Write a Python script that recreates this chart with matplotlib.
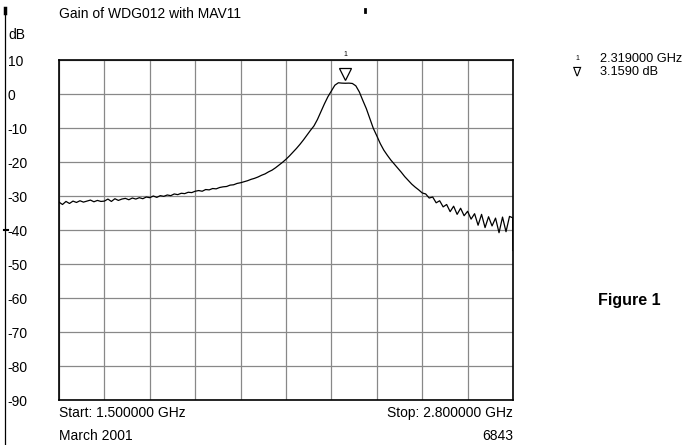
import numpy as np
import matplotlib
matplotlib.use('Agg')
import matplotlib.pyplot as plt
from matplotlib.lines import Line2D

plt.rcParams['font.family'] = ['Liberation Sans', 'DejaVu Sans']

# trace (GHz, dB)
freq = [1.50, 1.51, 1.52, 1.53, 1.54, 1.55, 1.56, 1.57, 1.58, 1.59,
        1.60, 1.61, 1.62, 1.63, 1.64, 1.65, 1.66, 1.67, 1.68, 1.69,
        1.70, 1.71, 1.72, 1.73, 1.74, 1.75, 1.76, 1.77, 1.78, 1.79,
        1.80, 1.81, 1.82, 1.83, 1.84, 1.85, 1.86, 1.87, 1.88, 1.89,
        1.90, 1.91, 1.92, 1.93, 1.94, 1.95, 1.96, 1.97, 1.98, 1.99,
        2.00, 2.01, 2.02, 2.03, 2.04, 2.05, 2.06, 2.07, 2.08, 2.09,
        2.10, 2.11, 2.12, 2.13, 2.14, 2.15, 2.16, 2.17, 2.18, 2.19,
        2.20, 2.21, 2.22, 2.23, 2.24, 2.25, 2.26, 2.27, 2.28, 2.29,
        2.30, 2.31, 2.32, 2.33, 2.34, 2.35, 2.36, 2.37, 2.38, 2.39,
        2.40, 2.41, 2.42, 2.43, 2.44, 2.45, 2.46, 2.47, 2.48, 2.49,
        2.50, 2.51, 2.52, 2.53, 2.54, 2.55, 2.56, 2.57, 2.58, 2.59,
        2.60, 2.61, 2.62, 2.63, 2.64, 2.65, 2.66, 2.67, 2.68, 2.69,
        2.70, 2.71, 2.72, 2.73, 2.74, 2.75, 2.76, 2.77, 2.78, 2.79,
        2.799, 2.80]
gain = [-31.8, -32.5, -31.6, -32.2, -31.5, -31.9, -31.4, -31.8, -31.5, -31.2,
        -31.7, -31.3, -31.6, -31.5, -30.9, -31.6, -30.8, -31.3, -30.9, -30.7,
        -31.1, -30.6, -30.9, -30.5, -30.8, -30.3, -30.5, -30.0, -30.4, -29.9,
        -30.1, -29.7, -29.9, -29.4, -29.6, -29.2, -29.3, -28.9, -29.0, -28.6,
        -28.4, -28.6, -28.1, -28.2, -27.8, -27.9, -27.5, -27.3, -27.2, -26.8,
        -26.7, -26.3, -26.1, -25.8, -25.5, -25.1, -24.8, -24.4, -23.9, -23.5,
        -22.9, -22.4, -21.7, -20.9, -20.1, -19.2, -18.2, -17.1, -16.0, -14.8,
        -13.5, -12.1, -10.7, -9.4, -7.5, -5.2, -2.9, -0.8, 0.9, 2.6,
        3.3, 3.2, 3.16, 3.2, 3.1, 2.4, 0.6, -1.9, -4.3, -7.2,
        -10.1, -12.3, -14.6, -16.5, -18.0, -19.4, -20.6, -21.8, -23.0, -24.3,
        -25.4, -26.5, -27.4, -28.2, -29.1, -29.4, -30.6, -30.3, -32.0, -31.4,
        -33.2, -32.5, -34.6, -33.0, -35.4, -33.6, -35.8, -34.5, -36.8, -35.2,
        -38.6, -35.4, -39.3, -36.1, -38.8, -36.5, -40.8, -36.2, -40.5, -36.0,
        -36.4, -46.0]

marker_f = 2.319
marker_db = 3.159
yticks = [10, 0, -10, -20, -30, -40, -50, -60, -70, -80, -90]

fig = plt.figure(figsize=(6.95, 4.45), dpi=100)
ax = fig.add_axes([59/695, 1 - 400/445, 454/695, 340/445])

ax.plot(freq, gain, color='black', lw=0.9)
ax.plot([marker_f], [6.0], marker='v', ms=8, mfc='white', mec='black', mew=0.9,
        clip_on=False)
ax.text(marker_f, 10.6, '1', fontsize=5, ha='center', va='bottom')

ax.set_xlim(1.5, 2.8)
ax.set_ylim(-90, 10)
ax.set_xticks(np.linspace(1.5, 2.8, 11))
ax.set_xticklabels([])
ax.set_yticks(yticks)
ax.set_yticklabels([str(v) for v in yticks], fontsize=10, ha='left')
ax.tick_params(axis='x', length=0)
ax.tick_params(axis='y', length=0, pad=37)
ax.grid(True, color='#888888', lw=0.9)
for s in ax.spines.values():
    s.set_linewidth(1.2)

fig.text(8/695, 1 - 35/445, 'dB', fontsize=10, va='center')
fig.text(59/695, 1 - 14/445, 'Gain of WDG012 with MAV11', fontsize=10, va='center')
fig.text(59/695, 1 - 413/445, 'Start: 1.500000 GHz', fontsize=10, va='center')
fig.text(513/695, 1 - 413/445, 'Stop: 2.800000 GHz', fontsize=10, va='center', ha='right')
fig.text(59/695, 1 - 436/445, 'March 2001', fontsize=10, va='center')
fig.text(513/695, 1 - 436/445, '6843', fontsize=10, va='center', ha='right')

fig.text(577/695, 1 - 58/445, '1', fontsize=5, va='center', ha='center')
fig.text(577/695, 1 - 72/445, r'$\nabla$', fontsize=9, va='center', ha='center')
fig.text(600/695, 1 - 59/445, '2.319000 GHz', fontsize=9.2, va='center')
fig.text(600/695, 1 - 72/445, '3.1590 dB', fontsize=9.2, va='center')

fig.text(598/695, 1 - 300/445, 'Figure 1', fontsize=11.5, fontweight='bold',
         va='center')

# frame line on the left edge and stray marks
fig.add_artist(Line2D([5/695, 5/695], [0, 1 - 8/445], color='black', lw=0.9))
fig.add_artist(Line2D([5/695, 5/695], [1 - 8/445, 1 - 13/445], color='black', lw=2.5))
fig.add_artist(Line2D([4/695, 8/695], [1 - 230/445, 1 - 230/445], color='black', lw=1.5))
fig.add_artist(Line2D([365/695, 365/695], [1 - 9/445, 1 - 12/445], color='black', lw=2))

fig.savefig('out.png', dpi=100)
